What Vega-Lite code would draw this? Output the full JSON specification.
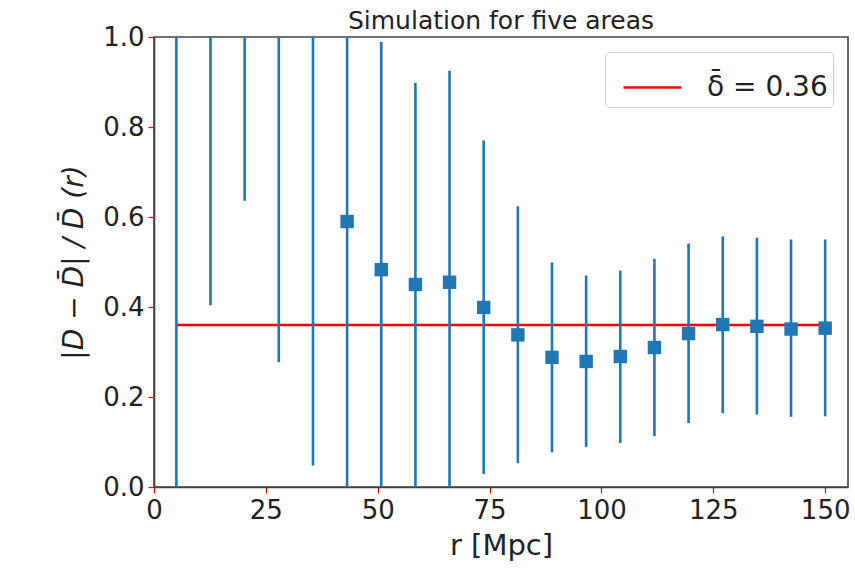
{
  "$schema": "https://vega.github.io/schema/vega-lite/v6.json",
  "width": 694,
  "height": 450,
  "autosize": {"type": "none"},
  "padding": {"left": 154, "top": 37, "right": 7, "bottom": 86},
  "background": "white",
  "title": {"text": "Simulation for five areas", "font": "DejaVu Sans", "fontSize": 25, "fontWeight": "normal", "color": "#222", "offset": 6, "dy": 16, "anchor": "middle", "frame": "group"},
  "data": {"values": [
    {"r": 5.0, "y": 1.2, "lower": -0.3, "upper": 2.7},
    {"r": 12.63, "y": 1.5, "lower": 0.404, "upper": 2.6},
    {"r": 20.26, "y": 1.6, "lower": 0.636, "upper": 2.56},
    {"r": 27.89, "y": 1.3, "lower": 0.277, "upper": 2.32},
    {"r": 35.53, "y": 1.2, "lower": 0.048, "upper": 2.35},
    {"r": 43.16, "y": 0.59, "lower": -0.05, "upper": 1.23},
    {"r": 50.79, "y": 0.483, "lower": -0.023, "upper": 0.989},
    {"r": 58.42, "y": 0.45, "lower": 0.0, "upper": 0.898},
    {"r": 66.05, "y": 0.455, "lower": -0.015, "upper": 0.925},
    {"r": 73.68, "y": 0.399, "lower": 0.029, "upper": 0.77},
    {"r": 81.32, "y": 0.338, "lower": 0.053, "upper": 0.624},
    {"r": 88.95, "y": 0.288, "lower": 0.077, "upper": 0.499},
    {"r": 96.58, "y": 0.279, "lower": 0.089, "upper": 0.47},
    {"r": 104.21, "y": 0.29, "lower": 0.098, "upper": 0.481},
    {"r": 111.84, "y": 0.31, "lower": 0.113, "upper": 0.507},
    {"r": 119.47, "y": 0.341, "lower": 0.142, "upper": 0.541},
    {"r": 127.11, "y": 0.361, "lower": 0.164, "upper": 0.557},
    {"r": 134.74, "y": 0.357, "lower": 0.161, "upper": 0.554},
    {"r": 142.37, "y": 0.351, "lower": 0.156, "upper": 0.55},
    {"r": 150.0, "y": 0.353, "lower": 0.157, "upper": 0.55}
  ]},
  "layer": [
    {
      "mark": {"type": "line", "strokeWidth": 2.5, "clip": true},
      "encoding": {
        "x": {"field": "r", "type": "quantitative"},
        "y": {"datum": 0.36, "type": "quantitative"},
        "color": {"datum": "δ̄ = 0.36\u00a0", "type": "nominal", "scale": {"range": ["#ff0000"]},
          "legend": {"title": null, "orient": "top-right", "offset": 15, "symbolType": "stroke", "symbolSize": 3364, "symbolStrokeWidth": 2.5, "symbolOffset": 12, "labelFont": "DejaVu Sans", "labelFontSize": 28, "labelColor": "#222", "labelOffset": 24, "padding": 5, "fillColor": "white", "strokeColor": "#d0d0d0", "cornerRadius": 4}}
      }
    },
    {
      "mark": {"type": "rule", "color": "#1f77b4", "strokeWidth": 2.6, "clip": true},
      "encoding": {
        "x": {"field": "r", "type": "quantitative"},
        "y": {"field": "lower", "type": "quantitative"},
        "y2": {"field": "upper"}
      }
    },
    {
      "mark": {"type": "square", "color": "#1f77b4", "filled": true, "opacity": 1, "size": 180, "clip": true},
      "encoding": {
        "x": {"field": "r", "type": "quantitative",
          "scale": {"domain": [0, 155.1], "nice": false, "zero": false},
          "axis": {"values": [0, 25, 50, 75, 100, 125, 150], "labelFlush": false, "title": "r [Mpc]", "titleFontSize": 29, "titlePadding": 8}},
        "y": {"field": "y", "type": "quantitative",
          "scale": {"domain": [0, 1], "nice": false},
          "axis": {"values": [0, 0.2, 0.4, 0.6, 0.8, 1.0], "format": ".1f", "labelFlush": false, "title": "|D − D̄| / D̄  (r)", "titleFontStyle": "italic", "titleFontSize": 28, "titlePadding": 14}}
      }
    }
  ],
  "config": {
    "view": {"stroke": "#444", "strokeWidth": 1.6},
    "axis": {
      "grid": false,
      "domainColor": "#444",
      "domainWidth": 1.6,
      "tickColor": "#ff0000",
      "tickSize": 6,
      "tickWidth": 1.2,
      "labelFont": "DejaVu Sans",
      "labelFontSize": 26,
      "labelColor": "#222",
      "labelPadding": 4,
      "titleFont": "DejaVu Sans",
      "titleFontWeight": "normal",
      "titleColor": "#222"
    }
  }
}
